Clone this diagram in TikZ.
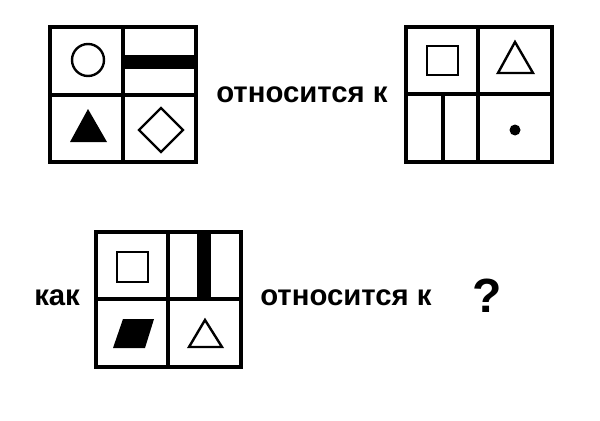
\documentclass[tikz,border=0pt]{standalone}
\usepackage{fontspec}
\setmainfont{Liberation Sans}
\begin{document}
\begin{tikzpicture}[x=0.75pt,y=-0.75pt,
  grid/.style={line width=2.3pt},
  outl/.style={line width=1.8pt},
  word/.style={font=\bfseries\fontsize{22}{26}\selectfont, inner sep=0pt, anchor=west}]
\useasboundingbox[fill=white] (0,0) rectangle (600,421);
% Box 1
\fill (123,55) rectangle (196,69);
\draw[grid] (50,27) rectangle (196,162) (123,27) -- (123,162) (50,95) -- (196,95);
\draw[outl] (88,60) circle (16);
\fill (70,142) -- (107,142) -- (88,109) -- cycle;
\draw[outl] (139,130) -- (161,108) -- (183,130) -- (161,152) -- cycle;
% Box 2
\draw[grid] (406,27) rectangle (552,162) (478,27) -- (478,162) (406,94) -- (552,94) (443,94) -- (443,162);
\draw[outl] (427,46) rectangle (458,75);
\draw[outl] (498,73) -- (515,42) -- (533,73) -- cycle;
\fill (515,130) circle (5.5);
% Box 3
\fill (197,232) rectangle (211,299);
\draw[grid] (96,232) rectangle (241,367) (168,232) -- (168,367) (96,299) -- (241,299);
\draw[outl] (117,252) rectangle (148,282);
\fill (113,348) -- (145,348) -- (154,319) -- (123,319) -- cycle;
\draw[outl] (189,347) -- (205,320) -- (222,347) -- cycle;
% Texts
\node[word] (t1) at (216,95) {относится к};
\node[word] (t2) at (34,298) {как};
\node[word] (t3) at (260,298) {относится к};
\node[font=\bfseries\fontsize{36}{42}\selectfont, inner sep=0pt] (q) at (487,296) {?};
\end{tikzpicture}
\end{document}
